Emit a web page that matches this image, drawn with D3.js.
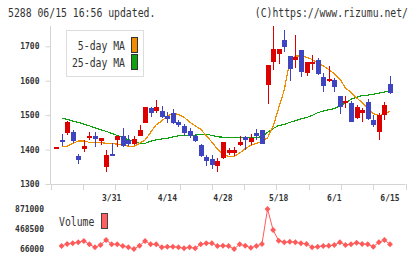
<!DOCTYPE html>
<html>
<head>
<meta charset="utf-8">
<script src="https://cdn.jsdelivr.net/npm/d3@7"></script>
<style>
  body { margin: 0; background: #fff; }
  svg { display: block; font-family: "DejaVu Sans Mono", monospace; }
</style>
</head>
<body>
<svg id="chart" width="420" height="259"></svg>
<script>
// trading days 2020/3/16 .. 6/15
var dates = ['3/16','3/17','3/18','3/19','3/23','3/24','3/25','3/26','3/27','3/30',
  '3/31','4/1','4/2','4/3','4/6','4/7','4/8','4/9','4/10','4/13',
  '4/14','4/15','4/16','4/17','4/20','4/21','4/22','4/23','4/24','4/27',
  '4/28','4/30','5/1','5/7','5/8','5/11','5/12','5/13','5/14','5/15',
  '5/18','5/19','5/20','5/21','5/22','5/25','5/26','5/27','5/28','5/29',
  '6/1','6/2','6/3','6/4','6/5','6/8','6/9','6/10','6/11','6/12','6/15'];
var labelDates = ['3/31', '4/14', '4/28', '5/18', '6/1', '6/15'];

var open = [1407,1428,1447,1450,1382,1403,1434,1440,1426,1350,
  1388,1428,1438,1428,1416,1440,1478,1520,1513,1512,
  1498,1505,1479,1469,1453,1440,1413,1379,1373,1352,
  1375,1391,1389,1413,1437,1421,1449,1457,1588,1653,
  1678,1717,1672,1660,1688,1622,1650,1660,1610,1601,
  1602,1556,1535,1535,1491,1507,1538,1486,1452,1499,1591];
var close = [1407,1422,1481,1426,1370,1410,1440,1430,1433,1384,
  1382,1440,1409,1416,1430,1457,1525,1505,1523,1494,
  1489,1478,1471,1447,1438,1426,1380,1368,1355,1368,
  1423,1399,1399,1423,1429,1435,1440,1416,1646,1692,
  1692,1697,1633,1670,1624,1655,1655,1619,1586,1604,
  1581,1525,1541,1481,1525,1515,1488,1471,1499,1530,1564];
var high = [1408,1444,1483,1457,1387,1428,1451,1451,1435,1399,
  1418,1440,1464,1442,1438,1471,1525,1525,1544,1527,
  1509,1518,1486,1474,1462,1444,1416,1384,1384,1375,
  1423,1405,1408,1440,1440,1444,1459,1457,1646,1758,
  1692,1746,1672,1733,1688,1655,1675,1665,1622,1643,
  1607,1556,1556,1541,1530,1520,1547,1500,1505,1539,1614];
var low = [1406,1410,1442,1420,1359,1394,1428,1407,1413,1336,
  1380,1407,1407,1409,1413,1438,1476,1496,1505,1491,
  1476,1474,1467,1440,1435,1423,1377,1353,1344,1336,
  1373,1384,1380,1409,1399,1413,1428,1416,1533,1631,
  1649,1683,1600,1636,1610,1615,1631,1617,1568,1596,
  1567,1503,1522,1481,1489,1481,1486,1467,1428,1486,1561];

var ma5 = [null,1410,1410,1418,1425,1425,1421,1421,1421,1418,
  1417,1416,1413,1410,1410,1418,1428,1450,1472,1483,
  1498,1505,1502,1494,1480,1469,1459,1440,1422,1401,
  1387,1380,1380,1390,1403,1412,1418,1424,1434,1467,
  1521,1573,1657,1672,1672,1668,1662,1652,1643,1633,
  1620,1605,1579,1566,1550,1537,1520,1505,1499,1502,1512];
var ma25 = [null,1491,1488,1483,1479,1474,1469,1463,1458,1453,
  1447,1441,1435,1429,1424,1418,1418,1424,1428,1431,
  1433,1437,1440,1441,1442,1442,1444,1445,1441,1437,
  1436,1435,1435,1435,1435,1435,1435,1438,1450,1461,
  1470,1473,1479,1484,1489,1493,1499,1507,1512,1516,
  1519,1527,1535,1546,1552,1557,1558,1561,1564,1567,1570];
var volume = [null,126000,166000,181000,201000,227000,161000,100000,146000,247000,
  161000,161000,126000,100000,66000,132000,227000,161000,161000,100000,
  112000,112000,100000,80000,100000,80000,161000,181000,181000,126000,
  132000,126000,66000,161000,132000,92000,126000,167000,871000,448000,
  233000,201000,213000,201000,181000,167000,100000,112000,126000,132000,
  146000,201000,146000,161000,193000,167000,161000,112000,201000,247000,161000];

var priceTicks = [1300, 1400, 1500, 1600, 1700];
var volumeTicks = [66000, 468500, 871000];

var svg = d3.select('#chart');
var upColor = '#dd0000';
var downColor = '#3f44c0';
var gridColor = '#d4d4d4';

var x = d3.scalePoint().domain(dates).range([56, 390]);
var y = d3.scaleLinear().domain([1300, 1759]).range([184, 26]);
var yVol = d3.scaleLinear().domain([66000, 871000]).range([249, 209]);
// weekly grid ticks along the bottom
var weeks = d3.scaleLinear().domain([0, 11]).range([50.5, 405.5]);

// tall, narrow label text (the original uses a condensed bitmap font)
function label(px, py, str, anchor) {
  return svg.append('text')
    .attr('transform', 'translate(' + px + ',' + py + ') scale(1,1.2)')
    .attr('text-anchor', anchor || 'start')
    .attr('font-size', 9.8).attr('fill', '#333')
    .text(str);
}

// header
label(8, 16.5, '5288 06/15 16:56 updated.');
label(408, 16.5, '(C)https://www.rizumu.net/', 'end');

// price axis
var yAxis = svg.append('g')
  .attr('transform', 'translate(50.5,0)')
  .call(d3.axisLeft(y).tickValues(priceTicks).tickFormat(d3.format('d'))
    .tickSize(5).tickPadding(6).tickSizeOuter(0));
yAxis.select('.domain').attr('stroke', gridColor).attr('d', 'M0,' + y.range()[1] + 'V' + y.range()[0]);
yAxis.selectAll('.tick line').attr('stroke', gridColor);
yAxis.selectAll('.tick text')
  .attr('font-family', '"DejaVu Sans Mono", monospace')
  .attr('font-size', 8).attr('font-weight', 'bold').attr('fill', '#333');

// bottom axis line + weekly ticks
svg.append('line')
  .attr('x1', weeks(0)).attr('x2', weeks(11))
  .attr('y1', 184.5).attr('y2', 184.5)
  .attr('stroke', gridColor);
svg.selectAll('line.week')
  .data(d3.range(12))
  .enter().append('line')
  .attr('class', 'week')
  .attr('x1', function(d) { return Math.round(weeks(d)) + 0.5; })
  .attr('x2', function(d) { return Math.round(weeks(d)) + 0.5; })
  .attr('y1', 184).attr('y2', 190)
  .attr('stroke', gridColor);

// date labels
svg.selectAll('text.date')
  .data(labelDates)
  .enter().append('text')
  .attr('class', 'date')
  .attr('x', function(d) { return x(d); })
  .attr('y', 201)
  .attr('text-anchor', 'middle')
  .attr('font-size', 8).attr('font-weight', 'bold').attr('fill', '#333')
  .text(function(d) { return d; });

// moving averages
function maLine(values) {
  return d3.line()
    .defined(function(d, i) { return values[i] != null; })
    .x(function(d, i) { return x(dates[i]); })
    .y(function(d, i) { return y(values[i]); })(dates);
}
svg.append('path')
  .attr('d', maLine(ma25))
  .attr('fill', 'none').attr('stroke', '#11a011').attr('stroke-width', 1.2)
  .attr('shape-rendering', 'crispEdges');
svg.append('path')
  .attr('d', maLine(ma5))
  .attr('fill', 'none').attr('stroke', '#f08c00').attr('stroke-width', 1.2)
  .attr('shape-rendering', 'crispEdges');

// candles
var candles = svg.append('g').attr('shape-rendering', 'crispEdges');
var candle = candles.selectAll('g.candle')
  .data(dates)
  .enter().append('g')
  .attr('class', 'candle');
candle.append('line')
  .attr('x1', function(d) { return Math.round(x(d)) + 0.5; })
  .attr('x2', function(d) { return Math.round(x(d)) + 0.5; })
  .attr('y1', function(d, i) { return y(high[i]); })
  .attr('y2', function(d, i) { return y(low[i]); })
  .attr('stroke', function(d, i) { return close[i] >= open[i] ? upColor : downColor; });
candle.append('rect')
  .attr('x', function(d) { return Math.round(x(d)) - 2; })
  .attr('width', 5)
  .attr('y', function(d, i) { return y(Math.max(open[i], close[i])); })
  .attr('height', function(d, i) {
    return Math.max(1.5, Math.abs(y(open[i]) - y(close[i])));
  })
  .attr('fill', function(d, i) { return close[i] >= open[i] ? upColor : downColor; });

// legend
svg.append('rect')
  .attr('x', 66.5).attr('y', 30.5).attr('width', 77).attr('height', 46)
  .attr('fill', '#fff').attr('stroke', '#ddd');
var legendItems = [
  { name: '5-day MA', color: '#f08c00', y: 46 },
  { name: '25-day MA', color: '#11a011', y: 63 }
];
legendItems.forEach(function(item) {
  label(125, item.y + 3.5, item.name, 'end');
  svg.append('rect')
    .attr('x', 131.5).attr('y', item.y - 8.5).attr('width', 6).attr('height', 15)
    .attr('fill', item.color).attr('stroke', '#333');
});

// volume labels
svg.selectAll('text.vol')
  .data(volumeTicks)
  .enter().append('text')
  .attr('class', 'vol')
  .attr('x', 44)
  .attr('y', function(d) { return yVol(d) + 3; })
  .attr('text-anchor', 'end')
  .attr('font-size', 8).attr('font-weight', 'bold').attr('fill', '#333')
  .text(function(d) { return d; });

label(59, 225.5, 'Volume');
svg.append('rect')
  .attr('x', 101.5).attr('y', 213.5).attr('width', 6).attr('height', 15)
  .attr('fill', '#ff6060').attr('stroke', '#444');

// volume line with diamonds
var volLine = d3.line()
  .defined(function(d, i) { return volume[i] != null; })
  .x(function(d, i) { return x(dates[i]); })
  .y(function(d, i) { return yVol(volume[i]); });
svg.append('path')
  .attr('d', volLine(dates))
  .attr('fill', 'none').attr('stroke', '#ff5a5a').attr('stroke-width', 1);
var diamond = d3.symbol().type(d3.symbolDiamond2).size(22);
svg.selectAll('path.vmark')
  .data(dates.filter(function(d, i) { return volume[i] != null; }))
  .enter().append('path')
  .attr('class', 'vmark')
  .attr('d', diamond)
  .attr('transform', function(d) {
    return 'translate(' + x(d) + ',' + yVol(volume[dates.indexOf(d)]) + ')';
  })
  .attr('fill', '#ff5a5a');
</script>
</body>
</html>
